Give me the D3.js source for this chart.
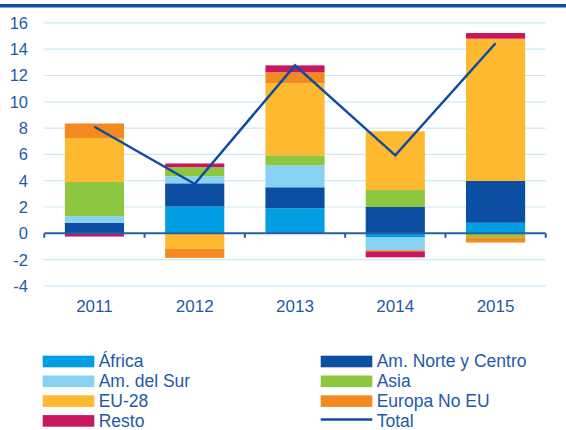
<!DOCTYPE html>
<html>
<head>
<meta charset="utf-8">
<script src="https://cdn.jsdelivr.net/npm/d3@7"></script>
<style>
  body { margin: 0; background: #fff; }
  svg { display: block; font-family: "Liberation Sans", Arial, sans-serif; }
</style>
</head>
<body>
<script>
// values
var years = ["2011", "2012", "2013", "2014", "2015"];
var africa     = [0.0, 2.03, 1.9, -0.32, 0.8];
var amNorte    = [0.8, 1.77, 1.6, 2.0, 3.18];
var amSur      = [0.5, 0.53, 1.67, -0.96, 0.0];
var asia       = [2.6, 0.7, 0.76, 1.29, -0.3];
var eu28       = [3.35, -1.17, 5.48, 4.47, 10.82];
var europaNoEU = [1.1, -0.7, 0.83, -0.1, -0.4];
var resto      = [-0.25, 0.28, 0.53, -0.45, 0.43];
var total      = [8.1, 3.75, 12.77, 5.93, 14.45];
var yTicks = [-4, -2, 0, 2, 4, 6, 8, 10, 12, 14, 16];

var series = [
  {name: "África", values: africa, color: "#009fe3"},
  {name: "Am. Norte y Centro", values: amNorte, color: "#0b4ea2"},
  {name: "Am. del Sur", values: amSur, color: "#87d2f2"},
  {name: "Asia", values: asia, color: "#8dc63f"},
  {name: "EU-28", values: eu28, color: "#fdb92f"},
  {name: "Europa No EU", values: europaNoEU, color: "#f28a1f"},
  {name: "Resto", values: resto, color: "#c8175e"}
];

var textColor = "#1f5aa8";
var lineColor = "#0d4c9f";

var svg = d3.select("body").append("svg")
    .attr("width", 566).attr("height", 430);

// top rule
svg.append("rect").attr("x", 0).attr("y", 4).attr("width", 566).attr("height", 3.5)
    .attr("fill", "#0b4ea2");

var x = d3.scaleBand().domain(years).range([44.3, 545.7]).paddingInner(0.41).paddingOuter(0.205);
var y = d3.scaleLinear().domain([-4, 16]).range([285.9, 22.9]);

// gridlines
svg.append("g").selectAll("line").data(yTicks.filter(function(d){ return d != 0; }))
  .enter().append("line")
    .attr("x1", 44).attr("x2", 545.7)
    .attr("y1", function(d){ return y(d); }).attr("y2", function(d){ return y(d); })
    .attr("stroke", "#cbe9f6").attr("stroke-width", 1.2);

// y labels
svg.append("g").selectAll("text").data(yTicks)
  .enter().append("text")
    .attr("x", 28).attr("y", function(d){ return y(d); })
    .attr("dy", "0.36em").attr("text-anchor", "end")
    .attr("font-size", 16.5).attr("fill", textColor)
    .text(function(d){ return d; });

// stacked bars
var rows = years.map(function(yr, i){
  var r = {year: yr};
  series.forEach(function(s){ r[s.name] = s.values[i]; });
  return r;
});
var stack = d3.stack().keys(series.map(function(s){ return s.name; }))
    .offset(d3.stackOffsetDiverging);
var layers = stack(rows);

svg.append("g").selectAll("g").data(layers)
  .enter().append("g")
    .attr("fill", function(d, i){ return series[i].color; })
  .selectAll("rect").data(function(d){ return d; })
  .enter().append("rect")
    .attr("x", function(d){ return x(d.data.year); })
    .attr("width", x.bandwidth())
    .attr("y", function(d){ return y(Math.max(d[0], d[1])); })
    .attr("height", function(d){ return Math.abs(y(d[0]) - y(d[1])); });

// zero axis with ticks
var zeroY = y(0);
var axisG = svg.append("g").attr("stroke", "#2a5ca8").attr("stroke-width", 2).attr("fill", "none");
axisG.append("line").attr("x1", 44.3).attr("x2", 545.7).attr("y1", zeroY).attr("y2", zeroY);
var bounds = years.map(function(d){ return x(d) - x.step() * x.paddingInner() / 2; });
bounds.push(545.7);
axisG.selectAll("line.tk").data(bounds).enter().append("line").attr("class", "tk")
    .attr("x1", function(d){ return d; }).attr("x2", function(d){ return d; })
    .attr("y1", zeroY).attr("y2", zeroY + 4.5);

// x labels
svg.append("g").selectAll("text").data(years)
  .enter().append("text")
    .attr("x", function(d){ return x(d) + x.bandwidth() / 2; })
    .attr("y", 312.3).attr("text-anchor", "middle")
    .attr("font-size", 17).attr("fill", textColor)
    .text(function(d){ return d; });

// total line
var line = d3.line()
    .x(function(d, i){ return x(years[i]) + x.bandwidth() / 2; })
    .y(function(d){ return y(d); });
svg.append("path").datum(total)
    .attr("d", line).attr("fill", "none")
    .attr("stroke", lineColor).attr("stroke-width", 2.5);

// legend
var legendItems = series.map(function(s){ return {name: s.name, color: s.color, type: "bar"}; });
legendItems.push({name: "Total", color: lineColor, type: "line"});
var leg = svg.append("g").selectAll("g").data(legendItems)
  .enter().append("g")
    .attr("transform", function(d, i){
      var col = i % 2, row = Math.floor(i / 2);
      return "translate(" + (col ? 320.7 : 42.7) + "," + (361.5 + row * 19.8) + ")";
    });
leg.filter(function(d){ return d.type == "bar"; }).append("rect")
    .attr("x", 0).attr("y", -5.8).attr("width", 51.6).attr("height", 11.6)
    .attr("fill", function(d){ return d.color; });
leg.filter(function(d){ return d.type == "line"; }).append("line")
    .attr("x1", 0).attr("x2", 51.6).attr("y1", -1.5).attr("y2", -1.5)
    .attr("stroke", function(d){ return d.color; }).attr("stroke-width", 2.5);
leg.append("text")
    .attr("x", 56).attr("y", 0).attr("dy", "0.34em")
    .attr("font-size", 17.5).attr("fill", textColor)
    .text(function(d){ return d.name; });
</script>
</body>
</html>
